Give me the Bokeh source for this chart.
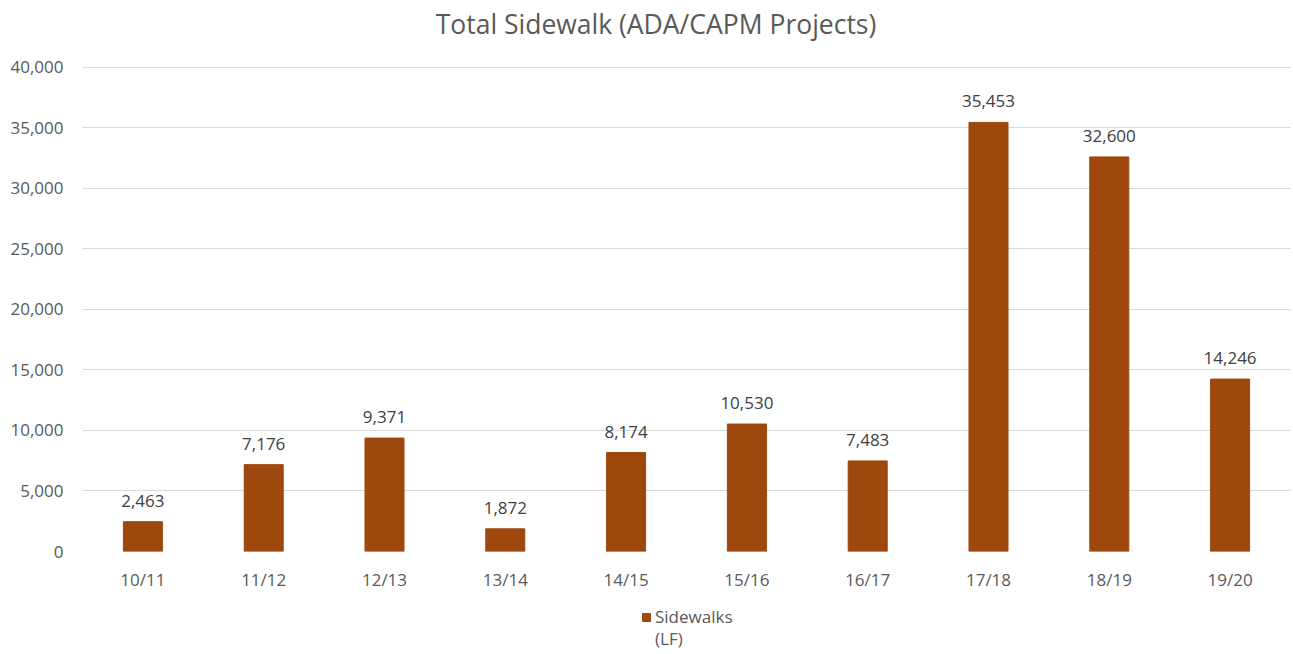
from bokeh.plotting import figure
from bokeh.layouts import column
from bokeh.models import (ColumnDataSource, NumeralTickFormatter, Legend, LegendItem,
                          FixedTicker, LabelSet, Range1d)
from bokeh.core.properties import value
from bokeh.embed import file_html
from bokeh.resources import INLINE

years = ["10/11", "11/12", "12/13", "13/14", "14/15", "15/16", "16/17", "17/18", "18/19", "19/20"]
sidewalks = [2463, 7176, 9371, 1872, 8174, 10530, 7483, 35453, 32600, 14246]
labels = [f"{v:,}" for v in sidewalks]
y_ticks = [0, 5000, 10000, 15000, 20000, 25000, 30000, 35000, 40000]
title_text = "Total Sidewalk (ADA/CAPM Projects)"
series_name = "Sidewalks"
series_unit = "(LF)"

FONT = "Open Sans"
TXT = "#595959"
BAR = "#9E480E"
W = 1293
LEFT, RIGHT = 82, 3


def blank(h):
    f = figure(width=W, height=h, x_range=Range1d(LEFT, W - RIGHT), y_range=Range1d(0, h),
               output_backend="svg", toolbar_location=None,
               min_border_left=LEFT, min_border_right=RIGHT,
               min_border_top=0, min_border_bottom=0)
    f.axis.visible = False
    f.grid.visible = False
    f.outline_line_color = None
    return f


# ---- title strip ----
top = blank(50)
top.text(x=[655.5], y=[27], text=[title_text], text_align="center", text_baseline="middle",
         text_font=value(FONT), text_font_size="26.5px", text_color=TXT)

# ---- main chart ----
src = ColumnDataSource(dict(x=years, y=sidewalks, lab=labels))
p = figure(x_range=years, y_range=Range1d(0, 40400), width=W, height=546,
           output_backend="svg", toolbar_location=None,
           min_border_left=LEFT, min_border_right=RIGHT, min_border_top=12, min_border_bottom=45)
p.outline_line_color = None
p.vbar(x="x", top="y", width=0.323, source=src, fill_color=BAR, line_color=BAR)
p.add_layout(LabelSet(x="x", y="y", text="lab", source=src, text_align="center",
                      text_baseline="middle", y_offset=21, text_font=value(FONT),
                      text_font_size=value("17px"), text_color="#404040"))
p.yaxis.ticker = FixedTicker(ticks=y_ticks)
p.yaxis.formatter = NumeralTickFormatter(format="0,0")
for ax in (p.xaxis, p.yaxis):
    ax.axis_line_color = None
    ax.major_tick_line_color = None
    ax.minor_tick_line_color = None
    ax.major_tick_out = 0
    ax.major_tick_in = 0
    ax.minor_tick_out = 0
    ax.major_label_text_font = FONT
    ax.major_label_text_font_size = "17px"
    ax.major_label_text_color = TXT
p.yaxis.major_label_standoff = 19
p.xaxis.major_label_standoff = 16
p.xgrid.grid_line_color = None
p.ygrid.grid_line_color = "#D9D9D9"
p.ygrid.grid_line_width = 1

# ---- legend strip ----
leg = blank(58)
sq = leg.vbar(x=[-500], top=[-500], bottom=[-501], width=1, fill_color=BAR, line_color=BAR)
ghost = leg.vbar(x=[-500], top=[-500], bottom=[-501], width=1, fill_alpha=0, line_alpha=0)
common = dict(orientation="horizontal", label_text_font=FONT, label_text_font_size="17px",
              label_text_color=TXT, glyph_width=10, glyph_height=10, border_line_color=None,
              background_fill_alpha=0, padding=0, margin=0, label_standoff=4, label_height=20)
leg.add_layout(Legend(items=[LegendItem(label=series_name, renderers=[sq])],
                      location=(641 - LEFT, 26), **common))
leg.add_layout(Legend(items=[LegendItem(label=series_unit, renderers=[ghost])],
                      location=(641 - LEFT, 4), **common))

layout = column(top, p, leg, spacing=0)
open("out.html", "w").write(file_html(layout, INLINE))
